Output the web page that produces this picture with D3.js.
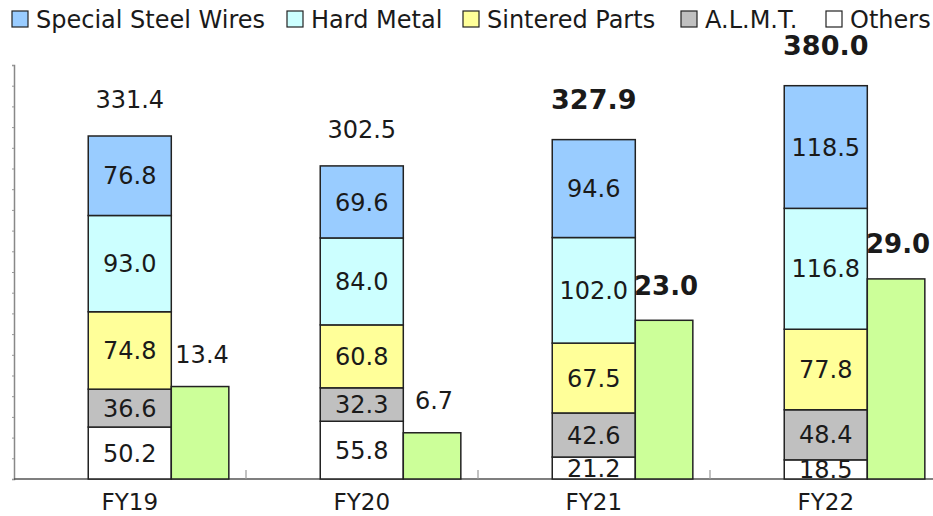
<!DOCTYPE html>
<html>
<head>
<meta charset="utf-8">
<script src="https://cdn.jsdelivr.net/npm/d3@7/dist/d3.min.js"></script>
<style>
	body { margin: 0; background: #fff; }
	svg text { font-family: "DejaVu Sans", Verdana, sans-serif; fill: #1a1a1a; }
</style>
</head>
<body>
<div id="chart"></div>
<script>
// Fiscal years
const categories = ["FY19", "FY20", "FY21", "FY22"];

// Stacked segments, bottom to top
const others = [50.2, 55.8, 21.2, 18.5];
const almt = [36.6, 32.3, 42.6, 48.4];
const sinteredParts = [74.8, 60.8, 67.5, 77.8];
const hardMetal = [93.0, 84.0, 102.0, 116.8];
const steelWires = [76.8, 69.6, 94.6, 118.5];

// Totals shown above each stack
const totals = [331.4, 302.5, 327.9, 380.0];

// Green bar (secondary axis)
const profit = [13.4, 6.7, 23.0, 29.0];

// Forecast years get bold labels
const boldLabels = [false, false, true, true];

const seriesNames = ["Special Steel Wires", "Hard Metal", "Sintered Parts", "A.L.M.T.", "Others"];

const width = 933, height = 516;
const margin = { left: 14, right: -9, top: 65, bottom: 37 };

const svg = d3.select("#chart").append("svg")
	.attr("width", width)
	.attr("height", height);

// Build stack rows from the arrays
const rows = categories.map((c, i) => ({
	cat: c,
	"Others": others[i],
	"A.L.M.T.": almt[i],
	"Sintered Parts": sinteredParts[i],
	"Hard Metal": hardMetal[i],
	"Special Steel Wires": steelWires[i]
}));
const stackOrder = ["Others", "A.L.M.T.", "Sintered Parts", "Hard Metal", "Special Steel Wires"];
const stacked = d3.stack().keys(stackOrder)(rows);

const colors = d3.scaleOrdinal()
	.domain(seriesNames)
	.range(["#99ccff", "#ccffff", "#ffff99", "#c0c0c0", "#ffffff"]);

const x = d3.scaleBand()
	.domain(categories)
	.range([margin.left, width - margin.right])
	.padding(0);

const y = d3.scaleLinear().domain([0, 400]).range([height - margin.bottom, margin.top]);
const y2 = d3.scaleLinear().domain([0, 60]).range([height - margin.bottom, margin.top]);

// Bar placement inside each band
const stackOffset = 0.32, stackWidth = 0.358, greenWidth = 0.248;
const stackX = c => x(c) + x.bandwidth() * stackOffset;
const greenX = c => stackX(c) + x.bandwidth() * stackWidth;

// Left axis
const yAxis = d3.axisLeft(y).ticks(20).tickSize(2).tickFormat("");
const yg = svg.append("g").attr("transform", `translate(${margin.left},0)`).call(yAxis);
yg.select(".domain").attr("stroke", "#888").attr("stroke-width", 1.5);
yg.selectAll(".tick line").attr("stroke", "#999");

// Bottom axis
const baseY = y(0);
svg.append("line")
	.attr("x1", margin.left).attr("x2", width)
	.attr("y1", baseY).attr("y2", baseY)
	.attr("stroke", "#555").attr("stroke-width", 1.5);
svg.selectAll(".cat-tick")
	.data(categories.slice(1))
	.enter().append("line")
	.attr("x1", d => x(d)).attr("x2", d => x(d))
	.attr("y1", baseY).attr("y2", baseY - 9)
	.attr("stroke", "#999").attr("stroke-width", 1.2);

// Stacked segments
const layers = svg.selectAll(".layer")
	.data(stacked)
	.enter().append("g")
	.attr("class", "layer");

layers.selectAll("rect")
	.data(d => d.map(p => ({ key: d.key, p: p })))
	.enter().append("rect")
	.attr("x", d => stackX(d.p.data.cat))
	.attr("y", d => y(d.p[1]))
	.attr("width", x.bandwidth() * stackWidth)
	.attr("height", d => y(d.p[0]) - y(d.p[1]))
	.attr("fill", d => colors(d.key))
	.attr("stroke", "#222")
	.attr("stroke-width", 1.5);

// Green bars
svg.selectAll(".green")
	.data(categories)
	.enter().append("rect")
	.attr("x", d => greenX(d))
	.attr("y", (d, i) => y2(profit[i]))
	.attr("width", x.bandwidth() * greenWidth)
	.attr("height", (d, i) => y2(0) - y2(profit[i]))
	.attr("fill", "#ccff99")
	.attr("stroke", "#222")
	.attr("stroke-width", 1.5);

// Segment labels
layers.selectAll("text")
	.data(d => d.map(p => ({ key: d.key, p: p })))
	.enter().append("text")
	.attr("x", d => stackX(d.p.data.cat) + x.bandwidth() * stackWidth / 2)
	.attr("y", d => (y(d.p[0]) + y(d.p[1])) / 2)
	.attr("dy", "0.36em")
	.attr("text-anchor", "middle")
	.style("font-size", "24px")
	.text(d => (d.p[1] - d.p[0]).toFixed(1));

// Total labels
svg.selectAll(".total")
	.data(categories)
	.enter().append("text")
	.attr("x", d => stackX(d) + x.bandwidth() * stackWidth / 2)
	.attr("y", (d, i) => y(totals[i]) - (boldLabels[i] ? 40 : 37))
	.attr("dy", "0.36em")
	.attr("text-anchor", "middle")
	.style("font-size", (d, i) => boldLabels[i] ? "27px" : "24px")
	.style("font-weight", (d, i) => boldLabels[i] ? "bold" : "normal")
	.text((d, i) => totals[i].toFixed(1));

// Green bar labels
svg.selectAll(".profit")
	.data(categories)
	.enter().append("text")
	.attr("x", d => greenX(d) + x.bandwidth() * greenWidth / 2 + 2)
	.attr("y", (d, i) => y2(profit[i]) - (boldLabels[i] ? 35 : 32))
	.attr("dy", "0.36em")
	.attr("text-anchor", "middle")
	.style("font-size", (d, i) => boldLabels[i] ? "26px" : "24px")
	.style("font-weight", (d, i) => boldLabels[i] ? "bold" : "normal")
	.text((d, i) => profit[i].toFixed(1));

// Category labels
svg.selectAll(".cat")
	.data(categories)
	.enter().append("text")
	.attr("x", d => stackX(d) + x.bandwidth() * stackWidth / 2)
	.attr("y", 502)
	.attr("dy", "0.36em")
	.attr("text-anchor", "middle")
	.style("font-size", "23px")
	.text(d => d);

// Legend
const legendX = [12, 287, 463, 681, 826];
const legend = svg.selectAll(".legend")
	.data(seriesNames)
	.enter().append("g")
	.attr("transform", (d, i) => `translate(${legendX[i]},0)`);

legend.append("rect")
	.attr("x", 0).attr("y", 11)
	.attr("width", 16).attr("height", 16)
	.attr("fill", d => colors(d))
	.attr("stroke", "#222")
	.attr("stroke-width", 1.2);

legend.append("text")
	.attr("x", 24).attr("y", 19)
	.attr("dy", "0.36em")
	.style("font-size", "24px")
	.text(d => d);
</script>
</body>
</html>
